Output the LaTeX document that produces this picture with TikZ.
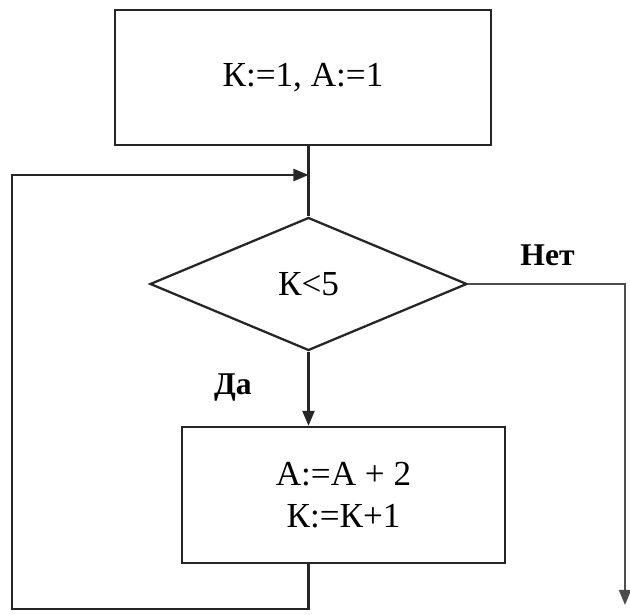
\documentclass[tikz,border=0pt]{standalone}
\usepackage{fontspec}
\setmainfont{Liberation Serif}
\usetikzlibrary{shapes.geometric, arrows.meta, positioning}

\begin{document}
\begin{tikzpicture}[
    block/.style={rectangle, draw=black!85, line width=1.3pt, align=center, font=\fontsize{20}{24}\selectfont},
    decision/.style={diamond, draw=black!85, line width=1.3pt, aspect=2.4, inner sep=0pt, minimum width=6.34cm, minimum height=2.66cm, font=\fontsize{20}{24}\selectfont},
    lbl/.style={inner sep=0pt, font=\fontsize{18}{21}\selectfont\bfseries},
    line/.style={line width=1.3pt, black!85},
    arrow/.style={-{Triangle[length=0.3cm, width=0.24cm]}, line width=1.3pt, black!85}
]
    \useasboundingbox (0,0) rectangle (12.6,12.3);

    \node[block, minimum width=7.52cm, minimum height=2.7cm] (init) at (6.06,10.75) {К:=1, А:=1};
    \node[decision] (check) at (6.17,6.62) {К<5};
    \node[block, minimum width=6.46cm, minimum height=2.72cm] (work) at (6.87,2.4) {А:=А + 2\\К:=К+1};

    \node[lbl, above right=0.36cm and 1.04cm of check.east] (no) {Нет};
    \node[lbl, below left=0.44cm and 1.13cm of check.south] (yes) {Да};

    \coordinate (join) at (6.17,8.8);
    \coordinate (loopcorner) at (0.24,0.12);
    \coordinate (exit) at (12.5,0.2);

    \draw[line] (init.south -| join) -- (check.north);
    \draw[arrow] (check.south) -- (work.north -| check.south);
    \draw[arrow] (work.south -| join) |- (loopcorner) |- (join);
    \draw[arrow, line width=0.9pt, black!70] (check.east) -| (exit);
\end{tikzpicture}
\end{document}
